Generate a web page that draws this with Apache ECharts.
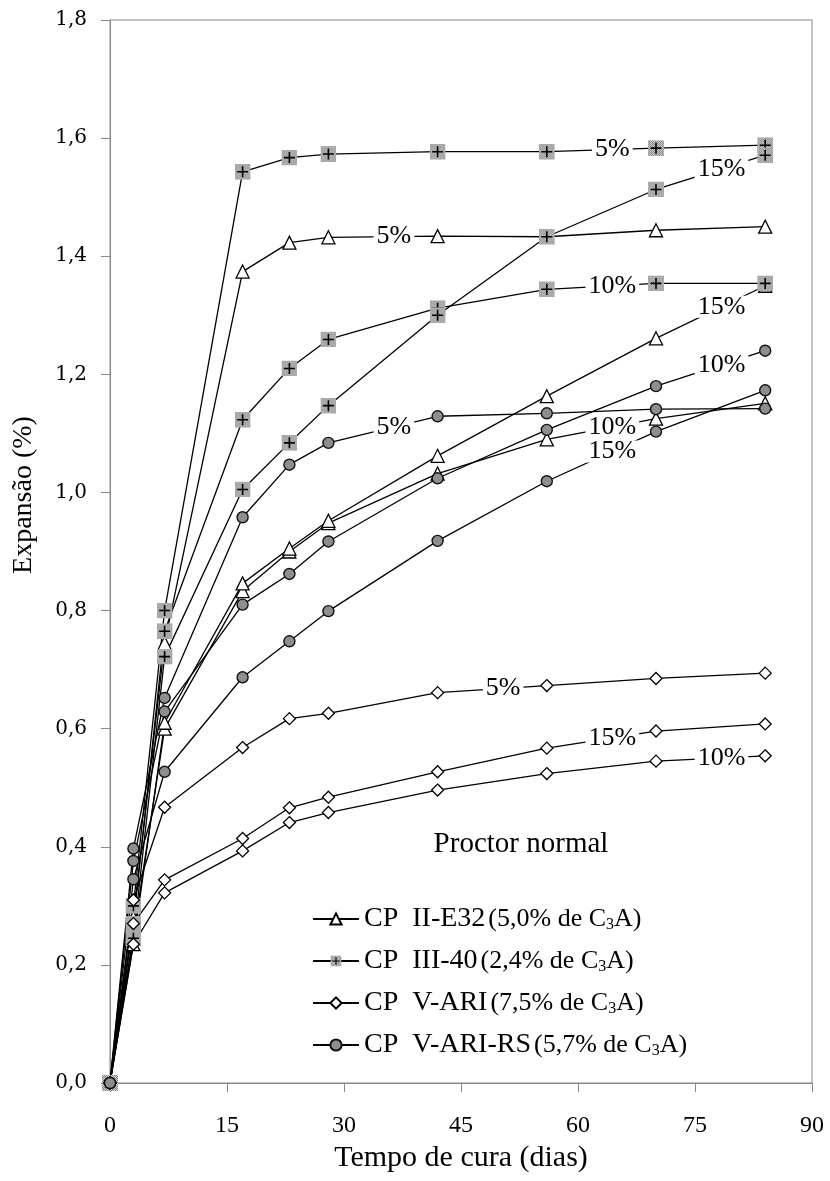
<!DOCTYPE html>
<html>
<head>
<meta charset="utf-8">
<script src="https://cdn.jsdelivr.net/npm/echarts@6/dist/echarts.min.js"></script>
<style>html,body{margin:0;padding:0;background:#fff}#c{width:830px;height:1181px}</style>
</head>
<body>
<div id="c"></div>
<script>
// ---- data ----
const days = [0, 3, 7, 17, 23, 28, 42, 56, 70, 84];
const xTicks = [0, 15, 30, 45, 60, 75, 90];
const yTicks = [0, 0.2, 0.4, 0.6, 0.8, 1.0, 1.2, 1.4, 1.6, 1.8];

const cementNames = ['CP II-E32', 'CP III-40', 'CP V-ARI', 'CP V-ARI-RS'];
const cementC3A = ['5,0', '2,4', '7,5', '5,7'];

// CP II-E32
const e5  = [0, 0.28, 0.745, 1.374, 1.423, 1.432, 1.434, 1.433, 1.444, 1.450];
const e10 = [0, 0.25, 0.600, 0.833, 0.900, 0.948, 1.032, 1.090, 1.125, 1.151];
const e15 = [0, 0.235, 0.610, 0.846, 0.905, 0.952, 1.062, 1.163, 1.261, 1.350];
// CP III-40
const p5  = [0, 0.30, 0.800, 1.543, 1.567, 1.573, 1.577, 1.577, 1.583, 1.588];
const p10 = [0, 0.27, 0.765, 1.123, 1.210, 1.259, 1.312, 1.344, 1.354, 1.354];
const p15 = [0, 0.245, 0.722, 1.005, 1.084, 1.147, 1.300, 1.433, 1.513, 1.571];
// CP V-ARI
const v5  = [0, 0.31, 0.467, 0.568, 0.617, 0.626, 0.661, 0.673, 0.685, 0.694];
const v10 = [0, 0.235, 0.322, 0.393, 0.441, 0.458, 0.496, 0.524, 0.545, 0.554];
const v15 = [0, 0.27, 0.344, 0.414, 0.466, 0.484, 0.527, 0.567, 0.596, 0.608];
// CP V-ARI-RS
const r5  = [0, 0.397, 0.652, 0.958, 1.047, 1.084, 1.129, 1.134, 1.141, 1.142];
const r10 = [0, 0.376, 0.629, 0.810, 0.862, 0.917, 1.024, 1.106, 1.180, 1.240];
const r15 = [0, 0.345, 0.527, 0.687, 0.748, 0.799, 0.918, 1.019, 1.103, 1.173];

// series definitions: [cement index, values, label text, label segment]
const seriesDefs = [
  [0, e5, '5%', 5], [0, e10, '10%', 7], [0, e15, '15%', 8],
  [1, p5, '5%', 7], [1, p10, '10%', 7], [1, p15, '15%', 8],
  [2, v5, '5%', 6], [2, v10, '10%', 8], [2, v15, '15%', 7],
  [3, r5, '5%', 5], [3, r10, '10%', 8], [3, r15, '15%', 7]
];

// ---- styles ----
const FONT = '"Liberation Serif", "Times New Roman", serif';
const plusSvg = "<svg xmlns='http://www.w3.org/2000/svg' width='16' height='16'>" +
  "<defs><pattern id='p' width='2' height='2' patternUnits='userSpaceOnUse'>" +
  "<rect width='2' height='2' fill='#d4d4d4'/><rect width='1' height='1' fill='#808080'/>" +
  "<rect x='1' y='1' width='1' height='1' fill='#808080'/></pattern></defs>" +
  "<rect width='16' height='16' fill='url(#p)'/>" +
  "<path d='M8 2.5V13.5M2.5 8H13.5' stroke='#000' stroke-width='1.6'/></svg>";
const plusSymbol = 'image://data:image/svg+xml;charset=utf-8,' + encodeURIComponent(plusSvg);

const markerStyles = [
  { symbol: 'triangle', symbolSize: 13, itemStyle: { color: '#fff', borderColor: '#000', borderWidth: 1.3 } },
  { symbol: plusSymbol, symbolSize: 16, itemStyle: { color: '#000' } },
  { symbol: 'diamond', symbolSize: 12, itemStyle: { color: '#fff', borderColor: '#000', borderWidth: 1.3 } },
  { symbol: 'circle', symbolSize: 11, itemStyle: { color: '#8e8e8e', borderColor: '#111', borderWidth: 1.4 } }
];

const series = seriesDefs.map(([ci, vals]) => ({
  type: 'line',
  name: cementNames[ci],
  data: days.map((d, i) => [d, vals[i]]),
  symbol: markerStyles[ci].symbol,
  symbolSize: markerStyles[ci].symbolSize,
  itemStyle: markerStyles[ci].itemStyle,
  lineStyle: { color: '#000', width: 1.3 },
  showAllSymbol: true,
  clip: false,
  silent: true,
  animation: false
}));

// labels placed on a line segment (interpolated from the data)
const T = 0.6;
const labelData = seriesDefs.map(([ci, vals, txt, seg]) => ({
  name: txt,
  value: [days[seg] + T * (days[seg + 1] - days[seg]), vals[seg] + T * (vals[seg + 1] - vals[seg])]
}));
series.push({
  type: 'scatter',
  name: 'labels',
  data: labelData,
  symbolSize: 1,
  itemStyle: { color: 'rgba(0,0,0,0)', opacity: 1 },
  z: 10,
  silent: true,
  animation: false,
  label: {
    show: true, position: 'inside', formatter: '{b}',
    fontFamily: FONT, fontSize: 26, color: '#000', opacity: 1,
    backgroundColor: '#fff', padding: [0, 3], lineHeight: 22
  }
});

const chart = echarts.init(document.getElementById('c'), null, { renderer: 'canvas' });
chart.setOption({
  animation: false,
  backgroundColor: '#fff',
  grid: { left: 110, right: 18, top: 20, bottom: 98, show: true, borderColor: '#888', borderWidth: 1 },
  xAxis: {
    type: 'value', min: xTicks[0], max: xTicks[xTicks.length - 1], interval: 15,
    name: 'Tempo de cura (dias)', nameLocation: 'middle', nameGap: 58,
    nameTextStyle: { fontFamily: FONT, fontSize: 30, color: '#000' },
    axisLine: { lineStyle: { color: '#888', width: 1 } },
    axisTick: { show: true, inside: false, length: 9, lineStyle: { color: '#888' } },
    axisLabel: { margin: 31, fontFamily: FONT, fontSize: 24, color: '#000' },
    splitLine: { show: false }
  },
  yAxis: {
    type: 'value', min: yTicks[0], max: yTicks[yTicks.length - 1], interval: 0.2,
    axisLine: { show: true, lineStyle: { color: '#888', width: 1 } },
    axisTick: { show: true, inside: false, length: 9, lineStyle: { color: '#888' } },
    axisLabel: {
      margin: 23, fontFamily: '"DejaVu Serif", serif', fontSize: 20, color: '#000',
      formatter: v => v.toFixed(1).replace('.', ',')
    },
    splitLine: { show: false }
  },
  legend: {
    data: cementNames,
    orient: 'vertical',
    left: 307, top: 900,
    itemWidth: 46, itemHeight: 14, itemGap: 14,
    selectedMode: false,
    formatter: name => {
      const i = cementNames.indexOf(name);
      return '{a|' + name.replace('CP ', 'CP  ') + '} {b|(' + cementC3A[i] + '% de C}{s|3}{b|A)}';
    },
    textStyle: {
      color: '#000', fontFamily: FONT,
      rich: {
        a: { fontFamily: FONT, fontSize: 28, color: '#000', lineHeight: 30 },
        b: { fontFamily: FONT, fontSize: 26, color: '#000', lineHeight: 30 },
        s: { fontFamily: FONT, fontSize: 16, color: '#000', padding: [12, 0, 0, 0] }
      }
    }
  },
  graphic: [
    { type: 'text', silent: true, x: 521, y: 844,
      style: { text: 'Proctor normal', fontFamily: FONT, fontSize: 29, fill: '#000', align: 'center', verticalAlign: 'middle' } },
    { type: 'text', silent: true, x: 24, y: 495, rotation: Math.PI / 2,
      style: { text: 'Expansão (%)', fontFamily: FONT, fontSize: 28, fill: '#000', align: 'center', verticalAlign: 'middle' } }
  ],
  series: series
});
</script>
</body>
</html>
